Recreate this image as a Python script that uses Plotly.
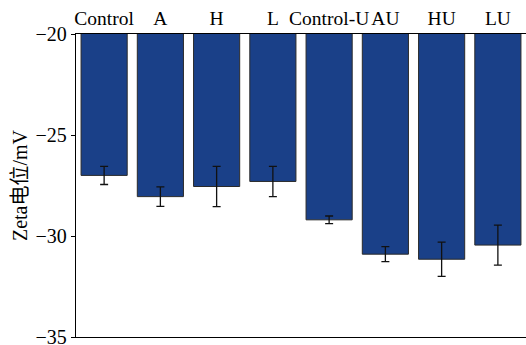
import plotly.graph_objects as go

categories = ["Control", "A", "H", "L", "Control-U", "AU", "HU", "LU"]
zeta_values = [-27.0, -28.05, -27.55, -27.3, -29.2, -30.9, -31.15, -30.45]
zeta_errors = [0.45, 0.48, 1.0, 0.75, 0.19, 0.37, 0.85, 0.99]
y_ticks = [-35, -30, -25, -20]
y_tick_labels = ["\u221235", "\u221230", "\u221225", "\u221220"]

FONT = "'Liberation Serif', 'Noto Sans CJK SC', serif"

fig = go.Figure()
fig.add_trace(go.Bar(
    x=categories,
    y=zeta_values,
    marker=dict(color="#1a4088", line=dict(color="#2a2a2a", width=1)),
    error_y=dict(type="data", array=zeta_errors, visible=True,
                 color="#111111", thickness=1.3, width=4),
    width=0.82,
))

fig.update_layout(
    width=526, height=345,
    margin=dict(l=76, r=0, t=34, b=8),
    paper_bgcolor="white", plot_bgcolor="white",
    font=dict(family=FONT, size=20, color="black"),
    showlegend=False,
    xaxis=dict(
        side="top", showline=True, linecolor="black", linewidth=1.3,
        mirror=True, ticks="", showgrid=False, tickangle=0,
        tickfont=dict(family=FONT, size=19.5), automargin=False,
    ),
    yaxis=dict(
        range=[-35, -20], tickvals=y_ticks, ticktext=y_tick_labels,
        tickfont=dict(family=FONT, size=20),
        ticklabeloverflow="allow",
        showline=True, linecolor="black", linewidth=1.3,
        ticks="outside", ticklen=4, tickcolor="black", tickwidth=1,
        showgrid=False, zeroline=False, automargin=False,
        title=dict(text="Zeta电位/mV", font=dict(family=FONT, size=20), standoff=2),
    ),
)

fig.write_html("out.html")
